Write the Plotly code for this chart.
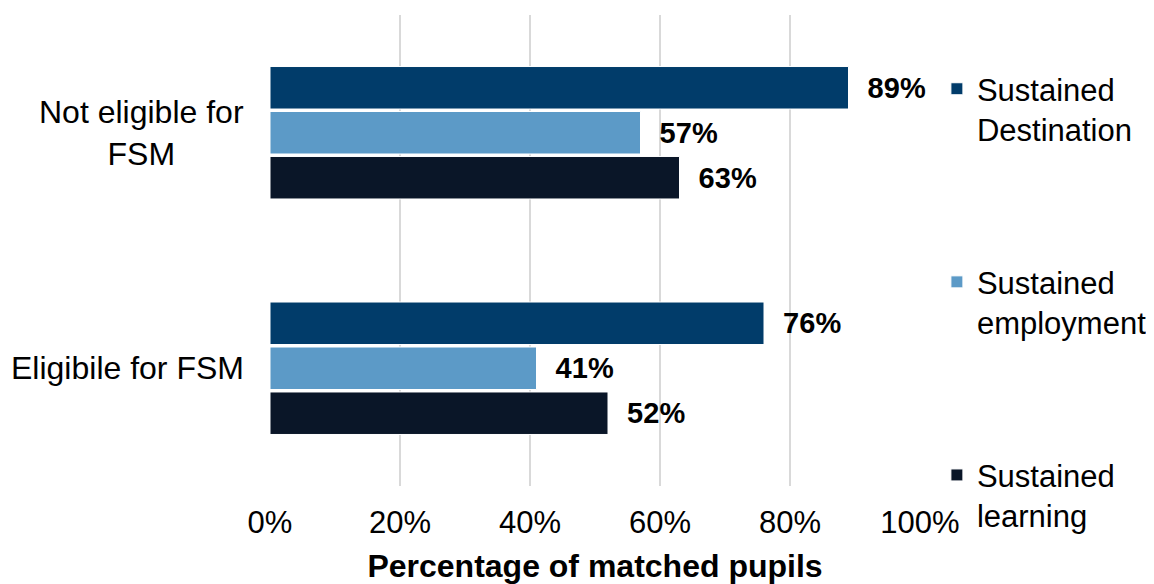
import plotly.graph_objects as go

categories = ["Not eligible for FSM", "Eligibile for FSM"]
category_labels = ["Not eligible for<br>FSM", "Eligibile for FSM"]
series_names = ["Sustained<br>Destination", "Sustained<br>employment", "Sustained<br>learning"]
sustained_destination = [89, 76]
sustained_employment = [57, 41]
sustained_learning = [63, 52]
series_values = [sustained_destination, sustained_employment, sustained_learning]
series_colors = ["#013C6A", "#5C9AC7", "#0A1628"]
tick_values = [0, 20, 40, 60, 80, 100]
tick_labels = ["0%", "20%", "40%", "60%", "80%", "100%"]

FONT = "Liberation Sans, Arial, sans-serif"
PAD = "\u00a0\u00a0"

fig = go.Figure()
for i, (name, vals, col) in enumerate(zip(series_names, series_values, series_colors)):
    fig.add_trace(go.Bar(
        y=categories, x=vals, orientation="h", name=name,
        marker=dict(color=col, line=dict(color="#FFFFFF", width=1)),
        text=[f"{PAD}{v}%" for v in vals], textposition="outside",
        textfont=dict(family=FONT, size=29, color="#000000", weight="bold"),
        constraintext="none", cliponaxis=False,
        legendgroup=f"g{i}",
    ))

for cat, lab in zip(categories, category_labels):
    fig.add_annotation(x=0, y=cat, xref="paper", yref="y", text=lab,
                       xanchor="right", align="center", xshift=-24,
                       showarrow=False,
                       font=dict(family=FONT, size=32, color="#000000"))

# figure is offset by the page's 8px body margin, so size/margins compensate
fig.update_layout(
    width=1146, height=576,
    margin=dict(l=262, r=234, t=7, b=98, autoexpand=False),
    paper_bgcolor="white", plot_bgcolor="white",
    barmode="group", bargap=0.427, bargroupgap=0.055,
    font=dict(family=FONT, size=31, color="#000000"),
    showlegend=True,
    legend=dict(x=1.026, xanchor="left", y=0.9, yanchor="top", valign="top",
                traceorder="grouped", tracegroupgap=109.5, maxheight=700,
                font=dict(family=FONT, size=31, color="#000000"),
                itemwidth=30, bgcolor="rgba(0,0,0,0)"),
    xaxis=dict(range=[0, 100], tickvals=tick_values, ticktext=tick_labels,
               showgrid=True, gridcolor="#D9D9D9", gridwidth=2,
               zeroline=False, showline=False, ticks="",
               ticklabelstandoff=15,
               tickfont=dict(family=FONT, size=31, color="#000000"),
               title=dict(text="<b>Percentage of matched pupils</b>", standoff=15,
                          font=dict(family=FONT, size=32, color="#000000"))),
    yaxis=dict(categoryorder="array", categoryarray=categories, autorange="reversed",
               showticklabels=False, showgrid=False, zeroline=False, showline=False, ticks=""),
)

fig.write_html("out.html")
